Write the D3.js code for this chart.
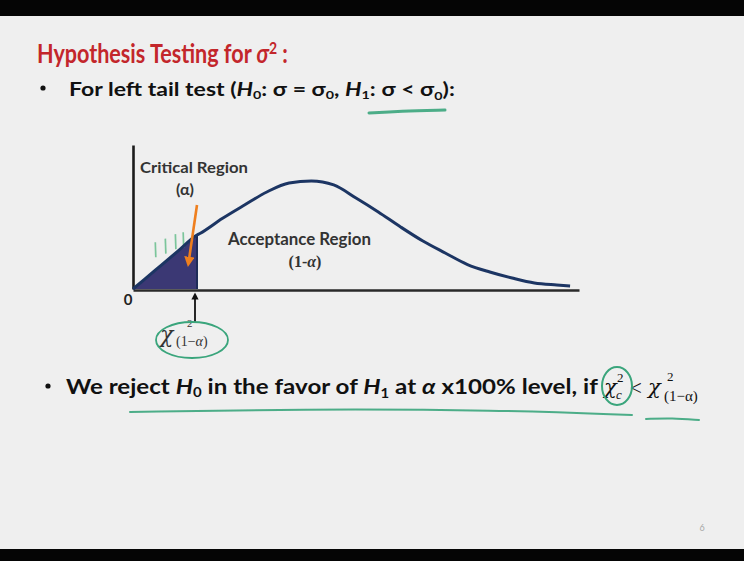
<!DOCTYPE html>
<html>
<head>
<meta charset="utf-8">
<script src="https://cdn.jsdelivr.net/npm/d3@7"></script>
<style>
  html, body { margin: 0; padding: 0; background: #efefef; }
  svg { display: block; }
</style>
</head>
<body>
<svg id="slide" width="744" height="561"></svg>
<script>
// Chi-square style density sampled along the horizontal axis
const chiValues = [0, 1, 2, 2.87, 3, 4, 5, 6, 7, 8, 9, 10, 11, 12, 13, 14, 15, 16, 17, 18, 19, 19.6];
const densityValues = [0, 0.0209, 0.0418, 0.06, 0.0617, 0.0783, 0.0933, 0.1078, 0.1178, 0.120, 0.1156,
                       0.1011, 0.0856, 0.0689, 0.0533, 0.040, 0.0272, 0.0189, 0.0122, 0.0067, 0.0044, 0.0033];
const criticalValue = 2.87;
const xDomain = [0, 20];
const yDomain = [0, 0.16];
const originLabel = "0";
const criticalLabel = ["Critical Region", "(α)"];
const acceptLabel = ["Acceptance Region", "(1-α)"];

const curve = chiValues.map((v, i) => ({ x: v, d: densityValues[i] }));

const W = 744, H = 561;
const svg = d3.select("#slide");
const SANS = "Lato, 'Open Sans', sans-serif";
const SERIF = "'Liberation Serif', 'DejaVu Serif', serif";
const MATH = "'DejaVu Serif', serif";
const GREEN = "#3aa57c";

// slide background and black frame bars
svg.append("rect").attr("width", W).attr("height", H).attr("fill", "#efefef");
svg.append("rect").attr("width", W).attr("height", 16).attr("fill", "#050505");
svg.append("rect").attr("y", 549).attr("width", W).attr("height", H - 549).attr("fill", "#050505");

// a text block drawn at (x, y) and squeezed horizontally to a given width
function block(xPos, yPos, width, attrs, anchor) {
  const g = svg.append("g");
  const t = g.append("text").attr("x", 0).attr("y", 0);
  Object.entries(attrs).forEach(([k, v]) => t.attr(k, v));
  return {
    t,
    done() {
      const w = t.node().getBBox().width;
      const sx = width / w;
      const x0 = anchor === "middle" ? xPos - width / 2 : xPos;
      g.attr("transform", `translate(${x0},${yPos}) scale(${sx.toFixed(4)},1)`);
    }
  };
}
function addRuns(t, runs) {
  runs.forEach(r => {
    const s = t.append("tspan").text(r.t);
    if (r.i) s.attr("font-style", "italic");
    if (r.sub) s.attr("font-size", "0.62em").attr("dy", "0.28em");
    if (r.back) s.attr("dy", "-0.17em");
  });
}

// title
const title = block(37, 63, 251, {
  "font-family": SANS, "font-weight": 700, "font-size": 26, fill: "#c3262b"
});
title.t.append("tspan").text("Hypothesis Testing for ");
title.t.append("tspan").attr("font-style", "italic").text("σ");
title.t.append("tspan").attr("font-size", "0.65em").attr("dy", "-0.55em").text("2");
title.t.append("tspan").attr("dy", "0.36em").text(" :");
title.done();

// first bullet
svg.append("circle").attr("cx", 43).attr("cy", 88).attr("r", 2.6).attr("fill", "#111");
const line1 = block(69, 96, 386, {
  "font-family": SANS, "font-weight": 700, "font-size": 19, fill: "#111"
});
addRuns(line1.t, [
  { t: "For left tail test (" }, { t: "H", i: 1 }, { t: "0", sub: 1 }, { t: ": σ = σ", back: 1 },
  { t: "0", sub: 1 }, { t: ", ", back: 1 }, { t: "H", i: 1 }, { t: "1", sub: 1 }, { t: ": σ < σ", back: 1 },
  { t: "0", sub: 1 }, { t: "):", back: 1 }
]);
line1.done();

// chart scales
const x = d3.scaleLinear().domain(xDomain).range([133, 579]);
const y = d3.scaleLinear().domain(yDomain).range([289, 145]);

// shaded critical region
const area = d3.area().x(d => x(d.x)).y0(y(0)).y1(d => y(d.d)).curve(d3.curveMonotoneX);
svg.append("path").datum(curve.filter(d => d.x <= criticalValue))
  .attr("d", area).attr("fill", "#3b3874");
svg.append("line").attr("x1", x(criticalValue)).attr("x2", x(criticalValue))
  .attr("y1", y(0)).attr("y2", y(densityValues[chiValues.indexOf(criticalValue)]))
  .attr("stroke", "#1e2c58").attr("stroke-width", 2);

// pen hatch marks over the shaded region
const hatch = [{ a: 1.0, top: 0.052 }, { a: 1.45, top: 0.056 }, { a: 1.9, top: 0.061 }, { a: 2.25, top: 0.063 }];
hatch.forEach(h => {
  svg.append("line").attr("x1", x(h.a)).attr("x2", x(h.a) + 0.5)
    .attr("y1", y(h.top)).attr("y2", y(h.top) + 15)
    .attr("stroke", "#6fc192").attr("stroke-width", 1.7).attr("opacity", 0.9);
});

// axes: plain lines without ticks
svg.append("g").attr("transform", `translate(0,${y(0) + 1})`)
  .call(d3.axisBottom(x).ticks(0).tickSizeOuter(0))
  .call(g => g.select(".domain").attr("stroke", "#2a2a2a").attr("stroke-width", 2.6));
svg.append("g").attr("transform", `translate(${x(0)},0)`)
  .call(d3.axisLeft(y).ticks(0).tickSizeOuter(0))
  .call(g => g.select(".domain").attr("stroke", "#1c1c1c").attr("stroke-width", 2.6));

// density curve
const line = d3.line().x(d => x(d.x)).y(d => y(d.d)).curve(d3.curveMonotoneX);
svg.append("path").datum(curve).attr("d", line)
  .attr("fill", "none").attr("stroke", "#1c3563").attr("stroke-width", 3);

// origin label
svg.append("text").attr("x", x(0) - 5).attr("y", 305).attr("text-anchor", "middle")
  .attr("font-family", SANS).attr("font-weight", 700).attr("font-size", 15).attr("fill", "#222")
  .text(originLabel);

// region labels
const crit = block(140, 173, 108, { "font-family": SANS, "font-weight": 700, "font-size": 16, fill: "#333" });
crit.t.text(criticalLabel[0]);
crit.done();
svg.append("text").attr("x", 185).attr("y", 195).attr("text-anchor", "middle")
  .attr("font-family", SANS).attr("font-weight", 700).attr("font-size", 16).attr("fill", "#333")
  .text(criticalLabel[1]);
const acc = block(228, 245, 144, { "font-family": SANS, "font-weight": 700, "font-size": 17, fill: "#333" });
acc.t.text(acceptLabel[0]);
acc.done();
const acc2 = svg.append("text").attr("x", 305).attr("y", 267).attr("text-anchor", "middle")
  .attr("font-family", SERIF).attr("font-weight", 700).attr("font-size", 16).attr("fill", "#333");
acc2.append("tspan").text("(1-");
acc2.append("tspan").attr("font-style", "italic").text("α");
acc2.append("tspan").text(")");

// orange arrow into the critical region
const defs = svg.append("defs");
defs.append("marker").attr("id", "headOrange").attr("viewBox", "0 0 10 10")
  .attr("refX", 6).attr("refY", 5).attr("markerWidth", 4).attr("markerHeight", 4)
  .attr("orient", "auto")
  .append("path").attr("d", "M0,0 L10,5 L0,10 z").attr("fill", "#ef7f1e");
defs.append("marker").attr("id", "headBlack").attr("viewBox", "0 0 10 10")
  .attr("refX", 5).attr("refY", 5).attr("markerWidth", 4).attr("markerHeight", 4.5)
  .attr("orient", "auto")
  .append("path").attr("d", "M0,0 L10,5 L0,10 z").attr("fill", "#111");
svg.append("line").attr("x1", 197).attr("y1", 205).attr("x2", 188.5).attr("y2", 263)
  .attr("stroke", "#ef7f1e").attr("stroke-width", 2.6).attr("marker-end", "url(#headOrange)");

// critical value pointer and label
svg.append("line").attr("x1", x(criticalValue) - 2).attr("y1", 322)
  .attr("x2", x(criticalValue) - 2).attr("y2", 296)
  .attr("stroke", "#111").attr("stroke-width", 1.8).attr("marker-end", "url(#headBlack)");
svg.append("text").attr("x", 160).attr("y", 342)
  .attr("font-family", MATH).attr("font-style", "italic").attr("font-size", 22).attr("fill", "#333").text("χ");
svg.append("text").attr("x", 187).attr("y", 327)
  .attr("font-family", SERIF).attr("font-size", 11).attr("fill", "#333").text("2");
const sub = svg.append("text").attr("x", 176).attr("y", 346)
  .attr("font-family", SERIF).attr("font-size", 14).attr("fill", "#333");
sub.append("tspan").text("(1−");
sub.append("tspan").attr("font-style", "italic").text("α");
sub.append("tspan").text(")");
svg.append("ellipse").attr("cx", 192).attr("cy", 340).attr("rx", 36).attr("ry", 18)
  .attr("fill", "none").attr("stroke", GREEN).attr("stroke-width", 1.8);

// second bullet
svg.append("circle").attr("cx", 48).attr("cy", 386).attr("r", 2.6).attr("fill", "#111");
const line2 = block(66, 394, 533, {
  "font-family": SANS, "font-weight": 700, "font-size": 20, fill: "#111"
});
addRuns(line2.t, [
  { t: "We reject " }, { t: "H", i: 1 }, { t: "0", sub: 1 }, { t: " in the favor of ", back: 1 },
  { t: "H", i: 1 }, { t: "1", sub: 1 }, { t: " at ", back: 1 }, { t: "α", i: 1 }, { t: " x100% level, if" }
]);
line2.done();

// decision rule symbols
svg.append("text").attr("x", 604).attr("y", 394)
  .attr("font-family", MATH).attr("font-style", "italic").attr("font-size", 21).attr("fill", "#111").text("χ");
svg.append("text").attr("x", 617).attr("y", 382)
  .attr("font-family", SERIF).attr("font-size", 13).attr("fill", "#111").text("2");
svg.append("text").attr("x", 616).attr("y", 399)
  .attr("font-family", SERIF).attr("font-style", "italic").attr("font-size", 13).attr("fill", "#111").text("c");
svg.append("text").attr("x", 630).attr("y", 395)
  .attr("font-family", SERIF).attr("font-size", 21).attr("fill", "#111").text("<");
svg.append("text").attr("x", 648).attr("y", 394)
  .attr("font-family", MATH).attr("font-style", "italic").attr("font-size", 21).attr("fill", "#111").text("χ");
svg.append("text").attr("x", 667).attr("y", 381)
  .attr("font-family", SERIF).attr("font-size", 13).attr("fill", "#111").text("2");
svg.append("text").attr("x", 664).attr("y", 401)
  .attr("font-family", SERIF).attr("font-size", 15).attr("fill", "#111").text("(1−α)");
svg.append("ellipse").attr("cx", 617).attr("cy", 386).attr("rx", 15).attr("ry", 19)
  .attr("fill", "none").attr("stroke", GREEN).attr("stroke-width", 2);

// pen underlines
function stroke(points, width) {
  svg.append("path").attr("d", d3.line().curve(d3.curveBasis)(points))
    .attr("fill", "none").attr("stroke", GREEN).attr("stroke-width", width)
    .attr("stroke-linecap", "round").attr("opacity", 0.9);
}
stroke([[369, 113], [400, 111], [445, 110]], 3);
stroke([[130, 412], [300, 409], [500, 410], [632, 415]], 2);
stroke([[646, 419], [672, 418], [699, 420]], 2);

// slide number
svg.append("text").attr("x", 702).attr("y", 531).attr("text-anchor", "middle")
  .attr("font-family", SANS).attr("font-size", 9).attr("fill", "#a8a8a8").text("6");
</script>
</body>
</html>
